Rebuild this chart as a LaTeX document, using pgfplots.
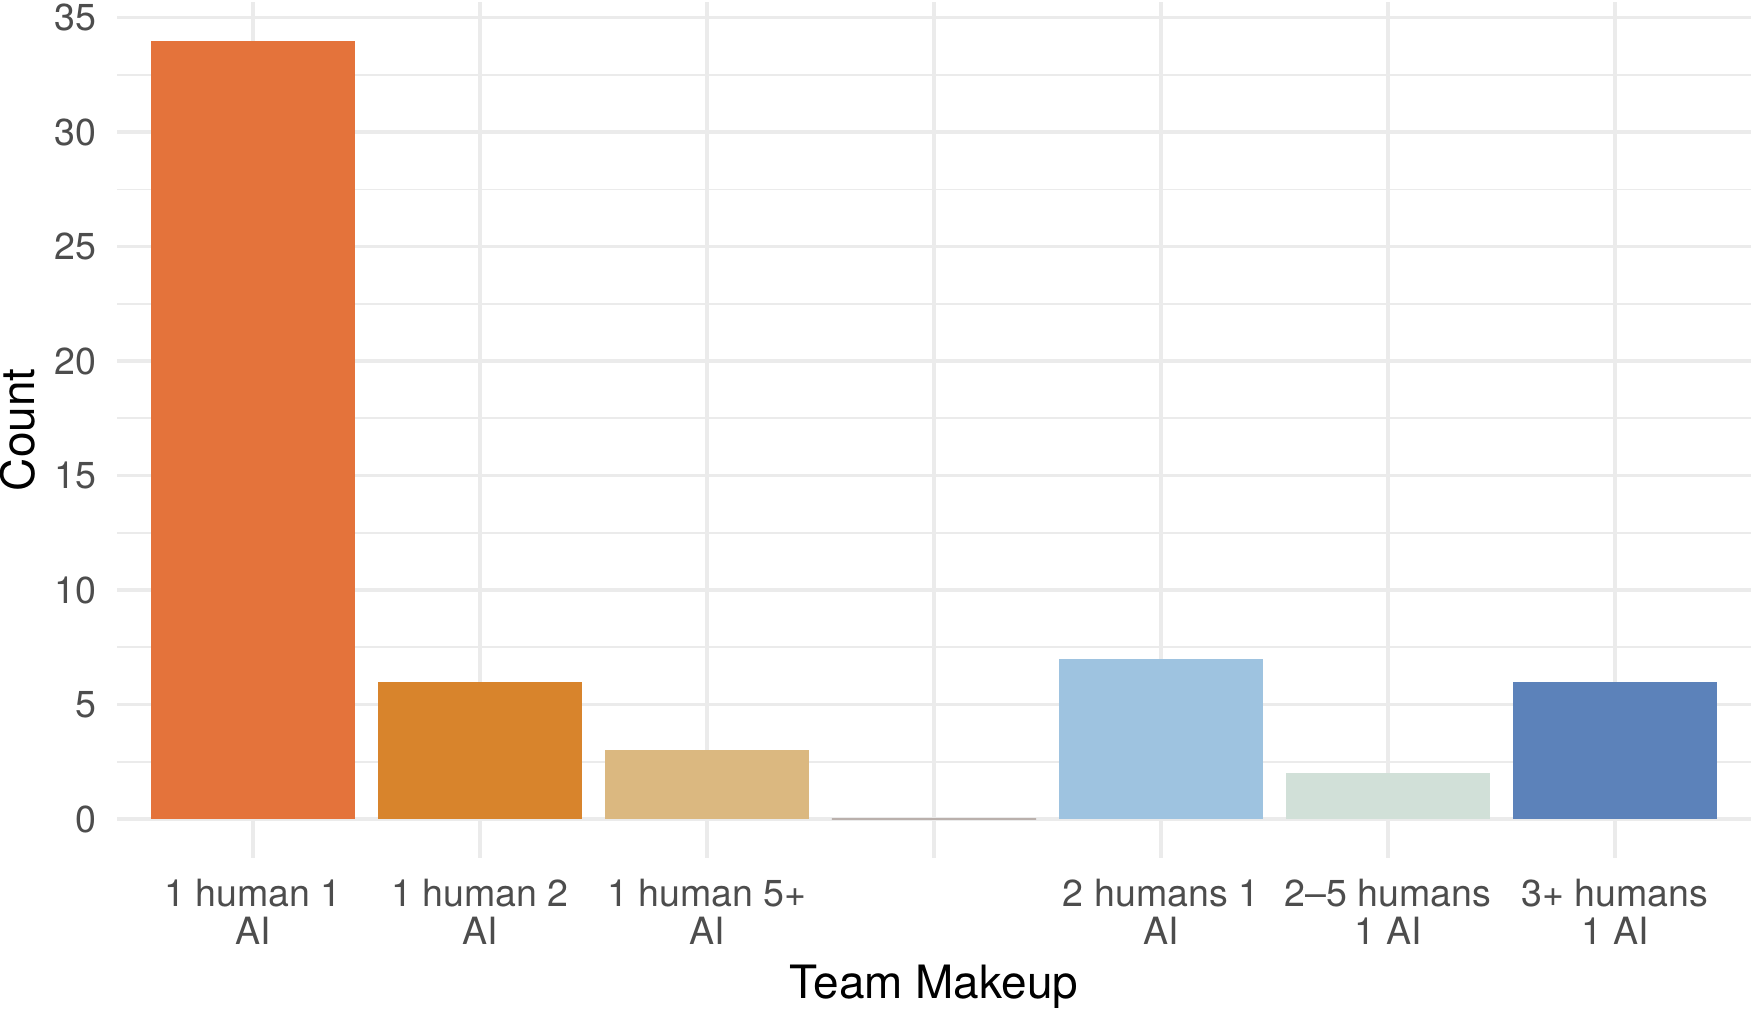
\documentclass[border=0pt]{standalone}
\usepackage{fontspec}
\setmainfont{TeX Gyre Heros}
\usepackage{pgfplots}
\pgfplotsset{compat=1.18}
\definecolor{c1}{RGB}{228,115,59}
\definecolor{c2}{RGB}{216,132,44}
\definecolor{c3}{RGB}{219,184,128}
\definecolor{c4}{RGB}{186,176,172}
\definecolor{c5}{RGB}{158,195,224}
\definecolor{c6}{RGB}{209,224,216}
\definecolor{c7}{RGB}{92,130,186}
\definecolor{gridc}{RGB}{235,235,235}
\definecolor{tickc}{RGB}{77,77,77}
\begin{document}
\begin{tikzpicture}
\begin{axis}[
  scale only axis,
  width=409.25pt, height=214.4pt,
  xmin=0.4, xmax=7.6, ymin=-1.7, ymax=35.7,
  axis line style={draw=none},
  tick style={draw=none},
  xtick={1,2,3,4,5,6,7},
  xticklabels={{1 human 1\\AI},{1 human 2\\AI},{1 human 5+\\AI},{},{2 humans 1\\AI},{2--5 humans\\1 AI},{3+ humans\\1 AI}},
  ytick={0,5,10,15,20,25,30,35},
  minor ytick={2.5,7.5,12.5,17.5,22.5,27.5,32.5},
  xmajorgrids, ymajorgrids, yminorgrids,
  major grid style={draw=gridc, line width=0.85pt},
  minor grid style={draw=gridc, line width=0.45pt},
  /pgf/number format/assume math mode=true,
  xticklabel style={align=center, font=\fontsize{9.4}{9.6}\selectfont, text=tickc, inner sep=0pt, yshift=-5pt},
  yticklabel style={font=\fontsize{9.4}{11}\selectfont, text=tickc, inner sep=0pt, xshift=-5pt},
  xlabel={Team Makeup},
  ylabel={Count},
  label style={font=\fontsize{11.5}{14}\selectfont, inner sep=0pt},
  xlabel style={yshift=-4.9pt},
  ylabel style={yshift=4.6pt},
  clip=false,
]
\addplot[ybar, bar width=0.9, bar shift=0pt, fill=c1, draw=none] coordinates {(1,34)};
\addplot[ybar, bar width=0.9, bar shift=0pt, fill=c2, draw=none] coordinates {(2,6)};
\addplot[ybar, bar width=0.9, bar shift=0pt, fill=c3, draw=none] coordinates {(3,3)};
\addplot[ybar, bar width=0.9, bar shift=0pt, fill=c4, draw=c4, line width=0.3pt] coordinates {(4,0)};
\addplot[ybar, bar width=0.9, bar shift=0pt, fill=c5, draw=none] coordinates {(5,7)};
\addplot[ybar, bar width=0.9, bar shift=0pt, fill=c6, draw=none] coordinates {(6,2)};
\addplot[ybar, bar width=0.9, bar shift=0pt, fill=c7, draw=none] coordinates {(7,6)};
\end{axis}
\end{tikzpicture}
\end{document}
